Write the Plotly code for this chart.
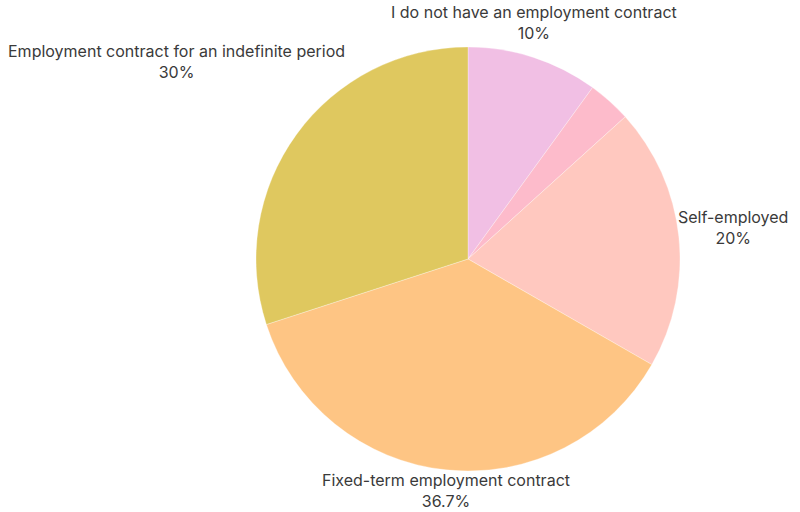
import math
import plotly.graph_objects as go

# Employment status shares (percent), clockwise from 12 o'clock
labels = [
    "I do not have an employment contract",
    "Other",
    "Self-employed",
    "Fixed-term employment contract",
    "Employment contract for an indefinite period",
]
values = [10, 3.3, 20, 36.7, 30]
shown = [True, False, True, True, True]
colors = ["#F1BFE4", "#FDBBCB", "#FFC8BF", "#FEC584", "#DFC85F"]

W, H = 800, 512
DOM_X = [0.32, 0.85]
DOM_Y = [0.0801, 0.9082]
FONT = "Inter, Open Sans, sans-serif"
FSIZE = 16
TEXT_COLOR = "#3a3a3a"

fig = go.Figure(
    go.Pie(
        labels=labels,
        values=values,
        textinfo="none",
        sort=False,
        direction="clockwise",
        rotation=0,
        marker=dict(colors=colors, line=dict(color="rgba(255,255,255,0.6)", width=0.5)),
        domain=dict(x=DOM_X, y=DOM_Y),
        showlegend=False,
        hoverinfo="label+percent",
    )
)

# Outside labels: placed at each slice's mid-angle, kept inside the page
# and nudged away from the disc when they would overlap it.
cx = (DOM_X[0] + DOM_X[1]) / 2 * W
cy = (1 - (DOM_Y[0] + DOM_Y[1]) / 2) * H
r = min((DOM_X[1] - DOM_X[0]) * W, (DOM_Y[1] - DOM_Y[0]) * H) / 2
pad = 8
line_h = FSIZE * 1.3
char_w = FSIZE * 0.48

total = sum(values)
cum = 0.0
annotations = []
for lab, val, show in zip(labels, values, shown):
    theta = 2 * math.pi * (cum + val / 2) / total
    cum += val
    if not show:
        continue
    text = f"{lab}<br>{val:g}%"
    ux, uy = math.sin(theta), -math.cos(theta)
    gap = 3 if uy < 0.5 else -1  # text box sits a little tighter below the disc
    px, py = cx + (r + gap) * ux, cy + (r + gap) * uy
    w = max(len(lab), len(f"{val:g}%")) * char_w
    h = 2 * line_h
    if ux > 0.5:
        left = px
    elif ux < -0.5:
        left = px - w
    else:
        left = px - w / 2
    if uy < -0.5:
        top = py - h
    elif uy > 0.5:
        top = py
    else:
        top = py - h * 0.7
    left = min(max(left, pad), W - pad - w)

    def hits(lft, tp):
        nx = min(max(cx, lft), lft + w)
        ny = min(max(cy, tp), tp + h)
        return math.hypot(nx - cx, ny - cy) < r + gap - 0.5

    if abs(uy) >= 0.5:
        step = -1 if uy < 0 else 1
        while hits(left, top):
            top += step
    else:
        step = -1 if ux < 0 else 1
        while hits(left, top):
            left += step

    annotations.append(
        dict(
            x=(left + w / 2) / W,
            y=1 - (top + h / 2) / H,
            xref="paper",
            yref="paper",
            xanchor="center",
            yanchor="middle",
            align="center",
            showarrow=False,
            text=text,
            font=dict(family=FONT, size=FSIZE, color=TEXT_COLOR),
        )
    )

fig.update_layout(
    width=W,
    height=H,
    margin=dict(l=0, r=0, t=0, b=0),
    paper_bgcolor="white",
    plot_bgcolor="white",
    showlegend=False,
    annotations=annotations,
)

fig.write_html("out.html")
